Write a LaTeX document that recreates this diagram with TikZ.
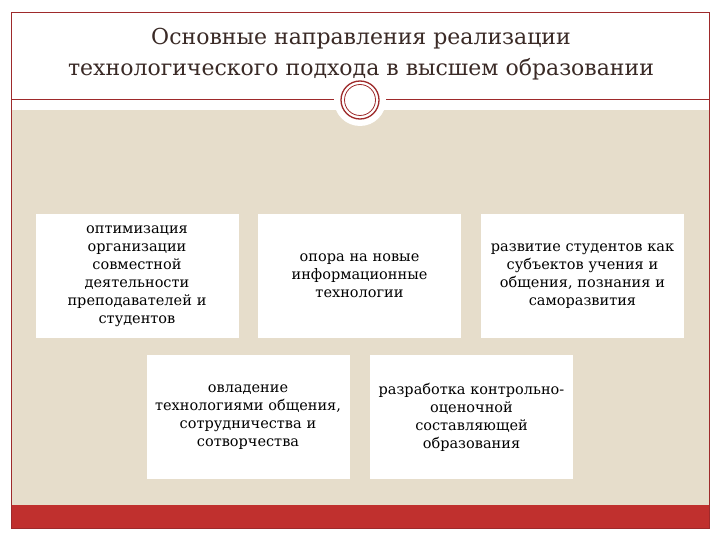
\documentclass[tikz,border=0pt]{standalone}
\usepackage{fontspec}
\setmainfont{DejaVu Serif}
\definecolor{dred}{HTML}{9E2A2B}
\definecolor{bred}{HTML}{C0302E}
\definecolor{beige}{HTML}{E6DDCB}
\definecolor{tcol}{HTML}{3A2A26}
\begin{document}
\begin{tikzpicture}[x=1pt,y=-1pt,
  box/.style={fill=white,draw=none,minimum width=203pt,minimum height=124pt,text width=200pt,align=center,font=\fontsize{14.5}{18}\selectfont,text=black,inner sep=0pt}]
\useasboundingbox (0,0) rectangle (720,540);
\fill[white] (0,0) rectangle (720,540);
\fill[beige] (11,110) rectangle (709,505);
\fill[bred] (11,505) rectangle (709,528);
\draw[dred,line width=0.6pt] (11,12) rectangle (709,528);
\draw[dred,line width=1pt] (11,100) -- (709,100);
\fill[white] (360,100) circle (26);
\draw[dred,line width=1.3pt] (360,100) circle (19);
\draw[dred,line width=0.8pt] (360,100) circle (15.5);
\node[text=tcol,align=center,font=\fontsize{22}{31}\selectfont] (title) at (361,54) {Основные направления реализации\\технологического подхода в высшем образовании};
\node[box] (b1) at (137,276) {оптимизация\\организации\\совместной\\деятельности\\преподавателей и\\студентов};
\node[box] (b2) at (359.5,276) {опора на новые\\информационные\\технологии};
\node[box] (b3) at (582.5,276) {развитие студентов как\\субъектов учения и\\общения, познания и\\саморазвития};
\node[box] (b4) at (248,417) {овладение\\технологиями общения,\\сотрудничества и\\сотворчества};
\node[box] (b5) at (471.5,417) {разработка контрольно-\\оценочной\\составляющей\\образования};
\end{tikzpicture}
\end{document}
